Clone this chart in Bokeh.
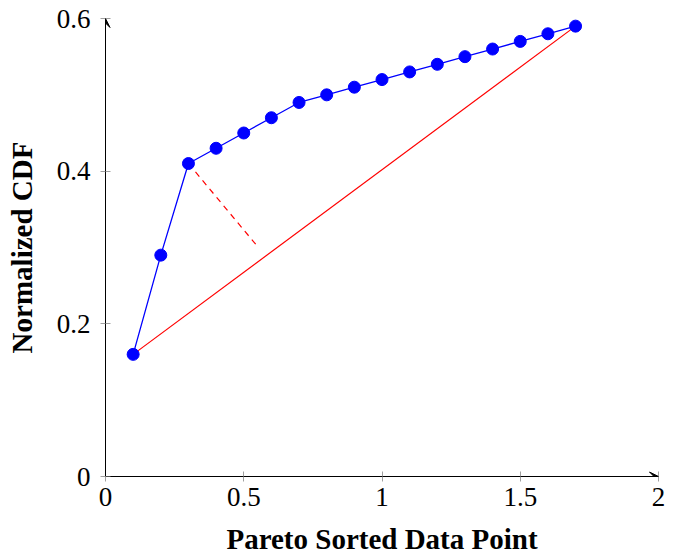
from bokeh.plotting import figure
from bokeh.models import Arrow, VeeHead, Range1d, FixedTicker
from bokeh.embed import file_html
from bokeh.resources import INLINE

# data
pareto_x = [0.1, 0.2, 0.3, 0.4, 0.5, 0.6, 0.7, 0.8, 0.9, 1.0, 1.1, 1.2, 1.3, 1.4, 1.5, 1.6, 1.7]
cdf_y = [0.16, 0.29, 0.41, 0.43, 0.45, 0.47, 0.49, 0.50, 0.51, 0.52, 0.53, 0.54, 0.55, 0.56, 0.57, 0.58, 0.59]
knee_x = [0.3, 0.553]
knee_y = [0.41, 0.300]
x_ticks = [0, 0.5, 1, 1.5, 2]
x_tick_labels = {0: "0", 0.5: "0.5", 1: "1", 1.5: "1.5", 2: "2"}
y_ticks = [0, 0.2, 0.4, 0.6]
y_tick_labels = {0: "0", 0.2: "0.2", 0.4: "0.4", 0.6: "0.6"}
x_lo, x_hi = 0, 2
y_lo, y_hi = 0, 0.6

FONT = "Liberation Serif"

p = figure(output_backend="svg", toolbar_location=None,
           x_range=Range1d(x_lo, x_hi), y_range=Range1d(y_lo, y_hi),
           frame_width=553, frame_height=458,
           min_border_left=105, min_border_top=18, min_border_right=20, min_border_bottom=78)
p.outline_line_color = None
p.grid.visible = False
p.background_fill_color = "white"

# chord between first and last point
p.line([pareto_x[0], pareto_x[-1]], [cdf_y[0], cdf_y[-1]], line_color="#ff0000", line_width=1.2)
# knee distance
p.line(knee_x, knee_y, line_color="#ff0000", line_width=1.2, line_dash="6 5")
# data
p.line(pareto_x, cdf_y, line_color="#0000ff", line_width=1.3)
p.scatter(pareto_x, cdf_y, size=12, fill_color="#0000ff", line_color="#0000ff")

for ax, ticks, labels in ((p.xaxis, x_ticks, x_tick_labels), (p.yaxis, y_ticks, y_tick_labels)):
    ax.ticker = FixedTicker(ticks=ticks)
    ax.major_label_overrides = labels
    ax.minor_tick_line_color = None
    ax.major_tick_in = 5
    ax.major_tick_out = 5
    ax.major_tick_line_color = "#a0a0a0"
    ax.axis_line_color = "black"
    ax.axis_line_width = 1
    ax.major_label_text_font = FONT
    ax.major_label_text_font_size = "27px"
    ax.major_label_text_color = "black"
    ax.axis_label_text_font = FONT
    ax.axis_label_text_font_size = "29px"
    ax.axis_label_text_font_style = "bold"
    ax.axis_label_text_color = "black"

p.xaxis.axis_label = "Pareto Sorted Data Point"
p.yaxis.axis_label = "Normalized CDF"
p.xaxis.major_label_standoff = 6
p.yaxis.major_label_standoff = 10
p.xaxis.axis_label_standoff = 14
p.yaxis.axis_label_standoff = 16

p.add_layout(Arrow(end=VeeHead(size=9, fill_color="black", line_color="black", line_width=1),
                   x_start=x_lo, y_start=y_lo, x_end=x_hi, y_end=y_lo,
                   line_color="black", line_width=1))
p.add_layout(Arrow(end=VeeHead(size=9, fill_color="black", line_color="black", line_width=1),
                   x_start=x_lo, y_start=y_lo, x_end=x_lo, y_end=y_hi,
                   line_color="black", line_width=1))

open("out.html", "w").write(file_html(p, INLINE))
